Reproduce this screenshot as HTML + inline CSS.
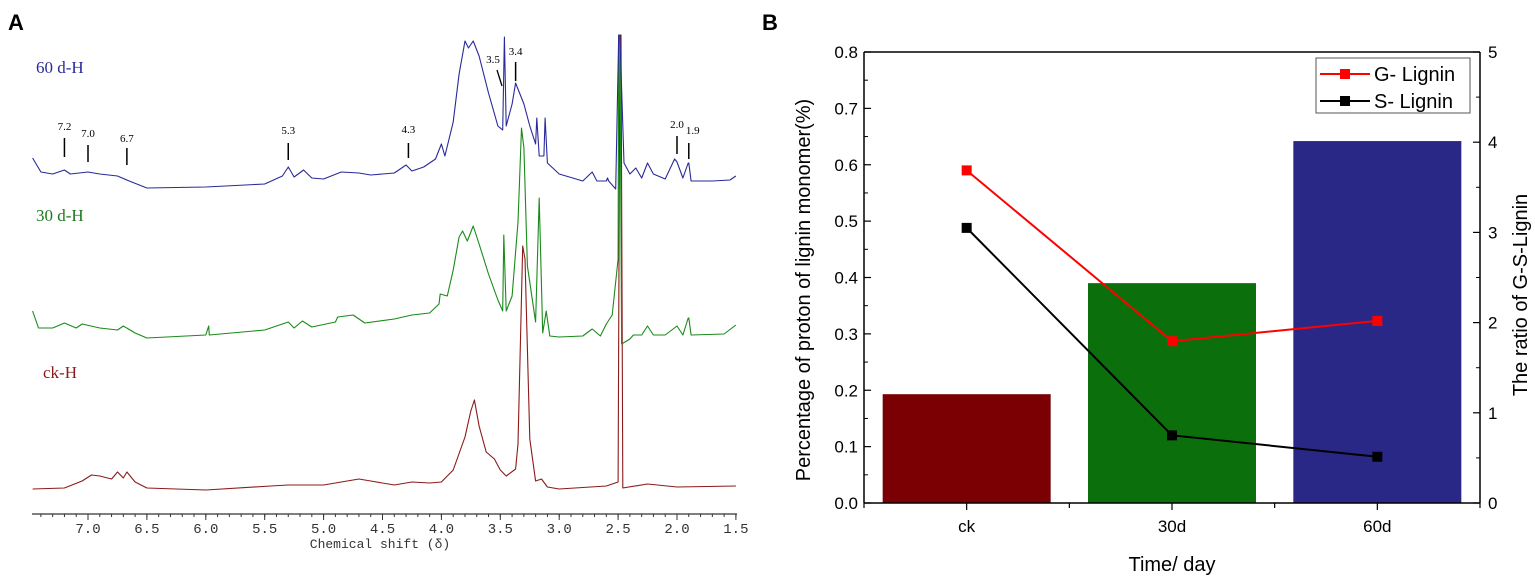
<!DOCTYPE html>
<html><head><meta charset="utf-8"><style>
html,body{margin:0;padding:0;background:#fff;width:1535px;height:578px;overflow:hidden}
svg{display:block}
</style></head><body>
<svg id="fig" width="1535" height="578" viewBox="0 0 1535 578" xmlns="http://www.w3.org/2000/svg">
<text x="8" y="30" font-family="Liberation Sans, sans-serif" font-weight="bold" font-size="22">A</text>
<text x="762" y="30" font-family="Liberation Sans, sans-serif" font-weight="bold" font-size="22">B</text>
<g id="pa"></g>
<g id="pb"></g>
</svg>
<script>
// ---------- Panel A data ----------
const blueShift=[7.47,7.4,7.3,7.2,7.15,7.0,6.9,6.75,6.65,6.5,6.0,5.5,5.35,5.3,5.25,5.17,5.1,5.0,4.85,4.7,4.6,4.4,4.3,4.25,4.15,4.05,4.0,3.97,3.9,3.85,3.8,3.77,3.73,3.68,3.6,3.52,3.48,3.465,3.45,3.4,3.37,3.3,3.25,3.2,3.19,3.17,3.13,3.12,3.1,3.0,2.8,2.72,2.68,2.6,2.59,2.58,2.52,2.495,2.485,2.45,2.4,2.35,2.3,2.25,2.2,2.1,2.02,2.0,1.95,1.905,1.9,1.88,1.7,1.55,1.5];
const blueVal=[23,9,7,11,7,9,7,5,0,-7,-6,-3,5,14,4,11,3,2,9,8,6,8,16,10,14,22,37,25,59,107,140,133,140,125,88,55,51,144,55,77,98,77,55,37,63,25,25,63,18,7,0,9,0,0,3,0,-8,146,146,18,7,13,3,18,7,2,22,19,3,18,18,0,0,1,5];
const greenShift=[7.47,7.42,7.3,7.2,7.1,7.05,6.9,6.75,6.7,6.6,6.5,6.0,5.975,5.97,5.5,5.3,5.25,5.18,5.1,4.9,4.88,4.75,4.65,4.4,4.25,4.1,4.02,4.01,3.95,3.9,3.85,3.82,3.78,3.73,3.68,3.6,3.52,3.48,3.47,3.45,3.4,3.35,3.32,3.3,3.27,3.2,3.17,3.14,3.11,3.08,3.0,2.8,2.72,2.65,2.6,2.55,2.5,2.495,2.485,2.47,2.4,2.37,2.3,2.25,2.2,2.1,2.0,1.95,1.905,1.9,1.88,1.6,1.5];
const greenVal=[15,-2,-2,3,-2,2,-2,-4,0,-7,-12,-9,0,-9,-4,4,-2,5,-1,4,9,11,3,7,11,13,22,32,30,56,89,95,85,100,82,52,26,15,91,15,30,104,198,178,60,4,128,-7,15,-10,-11,-10,-3,-10,2,11,67,291,291,-18,-13,-9,-9,0,-9,-9,0,-9,8,8,-9,-8,1];
const redShift=[7.47,7.2,7.05,6.97,6.9,6.8,6.75,6.7,6.67,6.6,6.5,6.0,5.45,5.3,5.0,4.75,4.7,4.6,4.4,4.25,4.1,4.0,3.9,3.8,3.75,3.72,3.68,3.62,3.55,3.5,3.45,3.37,3.35,3.31,3.29,3.25,3.2,3.15,3.1,3.0,2.6,2.5,2.485,2.475,2.46,2.25,2.0,1.5];
const redVal=[0,1,8,14,13,10,17,11,17,7,1,-1,3,4,4,9,10,8,4,7,6,7,19,52,78,89,63,37,30,19,13,20,45,243,230,50,8,10,2,0,3,7,454,454,1,5,2,3];
const peakLabels=["7.2","7.0","6.7","5.3","4.3","3.4","2.0","1.9"];
const peakShift=[7.2,7.0,6.67,5.3,4.28,3.37,2.0,1.9];
const axisTicks=[7.0,6.5,6.0,5.5,5.0,4.5,4.0,3.5,3.0,2.5,2.0,1.5];
const tickLabels=["7.0","6.5","6.0","5.5","5.0","4.5","4.0","3.5","3.0","2.5","2.0","1.5"];

// ---------- Panel B data ----------
const categories=["ck","30d","60d"];
const barValues=[0.193,0.39,0.642];
const gLignin=[0.59,0.287,0.323];
const sLignin=[0.488,0.12,0.082];
const leftTicks=[0,0.1,0.2,0.3,0.4,0.5,0.6,0.7,0.8];
const leftTickLabels=["0.0","0.1","0.2","0.3","0.4","0.5","0.6","0.7","0.8"];
const rightTicks=[0,1,2,3,4,5];
const rightTickLabels=["0","1","2","3","4","5"];

const NS="http://www.w3.org/2000/svg";
function mk(parent,tag,attrs){const e=document.createElementNS(NS,tag);for(const k in attrs)e.setAttribute(k,attrs[k]);parent.appendChild(e);return e;}

// ---------- Panel A ----------
const pa=document.getElementById('pa');
const xs=d=>88+(7.0-d)*117.8;
function spectrum(sh,val,base,color,name){
  let d='';
  for(let i=0;i<sh.length;i++){d+=(i?'L':'M')+xs(sh[i]).toFixed(1)+','+(base-val[i]).toFixed(1);}
  const p=mk(pa,'path',{d:d,fill:'none',stroke:color,'stroke-width':1.1,'stroke-linejoin':'round'});
  
  
}
spectrum(redShift,redVal,489,'#8b1a1a','ck-spectrum');
spectrum(greenShift,greenVal,326,'#1a8a1a','30d-spectrum');
spectrum(blueShift,blueVal,181,'#2a2a9a','60d-spectrum');
const serif='Liberation Serif, serif';
[["60 d-H",36,73,'#2a2a9a','label-60d'],["30 d-H",36,221,'#1a7a1a','label-30d'],["ck-H",43,378,'#8b1a1a','label-ck']].forEach(a=>{
  const t=mk(pa,'text',{x:a[1],y:a[2],fill:a[3],'font-family':serif,'font-size':17});t.textContent=a[0];
  
});
const lblY=[130,137,142,134,133,55,128,134];
const lineTop=[138,145,148,143,143,62,136,143];
const lineBot=[157,162,165,160,158,81,154,159];
peakLabels.forEach((l,i)=>{
  const x=xs(peakShift[i]);
  const ln=mk(pa,'line',{x1:x,y1:lineTop[i],x2:x,y2:lineBot[i],stroke:'#000','stroke-width':1.5});
  
  const t=mk(pa,'text',{x:x+(l==="1.9"?4:0),y:lblY[i],'text-anchor':'middle','font-family':serif,'font-size':11});t.textContent=l;
  
});
// 3.5 label with slanted line
{const t=mk(pa,'text',{x:493,y:63,'text-anchor':'middle','font-family':serif,'font-size':11});t.textContent="3.5";

const ln=mk(pa,'line',{x1:497,y1:70,x2:502,y2:86,stroke:'#000','stroke-width':1.3});
}
// axis
{const ax=mk(pa,'line',{x1:32,y1:514,x2:737,y2:514,stroke:'#333','stroke-width':1.2});
}
for(let d=7.4;d>=1.45;d-=0.1){const x=xs(d);const m=mk(pa,'line',{x1:x,y1:514,x2:x,y2:517,stroke:'#333','stroke-width':1});}
axisTicks.forEach((d,i)=>{const x=xs(d);
  const m=mk(pa,'line',{x1:x,y1:514,x2:x,y2:520,stroke:'#333','stroke-width':1});
  const t=mk(pa,'text',{x:x,y:533,'text-anchor':'middle','font-family':'Liberation Mono, monospace','font-size':14,fill:'#333'});t.textContent=tickLabels[i];
  });
{const t=mk(pa,'text',{x:380,y:548,'text-anchor':'middle','font-family':'Liberation Mono, monospace','font-size':13,fill:'#333'});t.textContent="Chemical shift (δ)";
}

// ---------- Panel B ----------
const pb=document.getElementById('pb');
const L=864,R=1480,T=52,B=503,band=(R-L)/3;
const xc=i=>L+band*(i+0.5);
const yl=v=>B-(v/0.8)*(B-T);
const yr=v=>B-(v/5)*(B-T);
const cols=['#7a0004','#0b700b','#2a2887'];
const sans='Liberation Sans, Arial, sans-serif';
barValues.forEach((v,i)=>{const w=168;
  const r=mk(pb,'rect',{x:xc(i)-w/2,y:yl(v),width:w,height:B-yl(v),fill:cols[i]});
  });
function series(vals,color,name){
  let d='';vals.forEach((v,i)=>{d+=(i?'L':'M')+xc(i)+','+yl(v);});
  const p=mk(pb,'path',{d:d,fill:'none',stroke:color,'stroke-width':2});
  vals.forEach((v,i)=>{const s=mk(pb,'rect',{x:xc(i)-5,y:yl(v)-5,width:10,height:10,fill:color});});
}
series(gLignin,'#ff0000','g-lignin');
series(sLignin,'#000000','s-lignin');
// frame: left, bottom, right axes (+top line)
[[L,T,L,B,'left-axis'],[L,B,R,B,'bottom-axis'],[R,T,R,B,'right-axis'],[L,T,R,T,'top-axis']].forEach(a=>{
  const l=mk(pb,'line',{x1:a[0],y1:a[1],x2:a[2],y2:a[3],stroke:'#000','stroke-width':1.5});});
leftTicks.forEach((v,i)=>{const y=yl(v);
  const l=mk(pb,'line',{x1:L,y1:y,x2:L+7,y2:y,stroke:'#000','stroke-width':1.2});
  if(i<8){const m=mk(pb,'line',{x1:L,y1:yl(v+0.05),x2:L+4,y2:yl(v+0.05),stroke:'#000','stroke-width':1});}
  const t=mk(pb,'text',{x:L-6,y:y+6,'text-anchor':'end','font-family':sans,'font-size':17});t.textContent=leftTickLabels[i];
  });
rightTicks.forEach((v,i)=>{const y=yr(v);
  const l=mk(pb,'line',{x1:R,y1:y,x2:R-7,y2:y,stroke:'#000','stroke-width':1.2});
  if(i<5){const m=mk(pb,'line',{x1:R,y1:yr(v+0.5),x2:R-4,y2:yr(v+0.5),stroke:'#000','stroke-width':1});}
  const t=mk(pb,'text',{x:R+8,y:y+6,'font-family':sans,'font-size':17});t.textContent=rightTickLabels[i];
  });
for(let k=0;k<=6;k++){const x=L+band*k/2;const l=mk(pb,'line',{x1:x,y1:B,x2:x,y2:B+(k%2?7:5),stroke:'#000','stroke-width':1.2});}
categories.forEach((c,i)=>{const t=mk(pb,'text',{x:xc(i),y:532,'text-anchor':'middle','font-family':sans,'font-size':17});t.textContent=c;
  });
{const t=mk(pb,'text',{x:1172,y:571,'text-anchor':'middle','font-family':sans,'font-size':20});t.textContent="Time/ day";}
{const t=mk(pb,'text',{x:0,y:0,'text-anchor':'middle','font-family':sans,'font-size':20,transform:'translate(810,290) rotate(-90)'});t.textContent="Percentage of proton of lignin monomer(%)";}
{const t=mk(pb,'text',{x:0,y:0,'text-anchor':'middle','font-family':sans,'font-size':20,transform:'translate(1527,295) rotate(-90)'});t.textContent="The ratio of G-S-Lignin";}
// legend
{const g=mk(pb,'g',{});
 mk(g,'rect',{x:1316,y:58,width:154,height:55,fill:'#fff',stroke:'#555','stroke-width':1});
 [['G- Lignin','#ff0000',74],['S- Lignin','#000',101]].forEach(a=>{
  const e=mk(g,'g',{});
  mk(e,'line',{x1:1320,y1:a[2],x2:1370,y2:a[2],stroke:a[1],'stroke-width':2});
  mk(e,'rect',{x:1340,y:a[2]-5,width:10,height:10,fill:a[1]});
  const t=mk(e,'text',{x:1374,y:a[2]+7,'font-family':sans,'font-size':20});t.textContent=a[0];});}
</script>
</body></html>
